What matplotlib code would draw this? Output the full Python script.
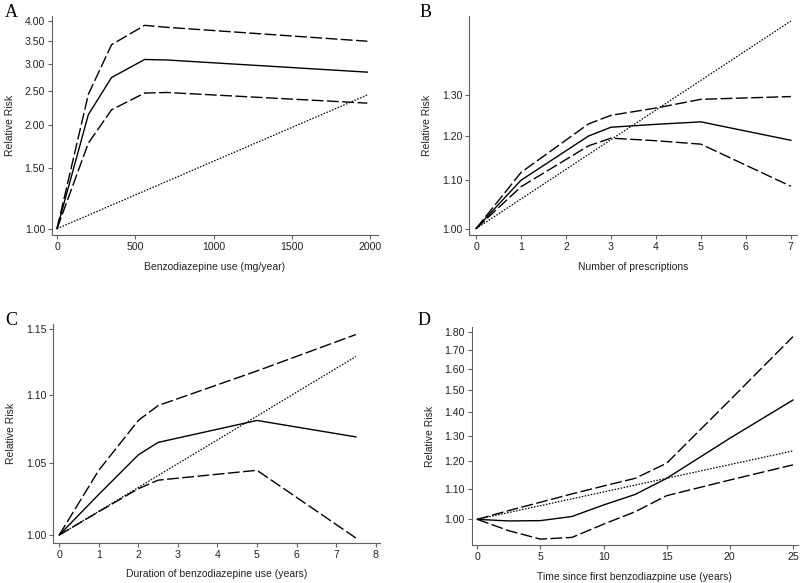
import numpy as np
import matplotlib
matplotlib.use('Agg')
import matplotlib.pyplot as plt
from matplotlib.ticker import FixedLocator, FormatStrFormatter, NullLocator

plt.rcParams['font.family'] = ['Liberation Sans', 'DejaVu Sans']
plt.rcParams['lines.scale_dashes'] = False

# Panel A - cumulative dose
a_x = [0, 200, 348, 559, 700, 1980]
a_rr = [1.00, 2.14, 2.74, 3.09, 3.08, 2.84]
a_hi = [1.00, 2.45, 3.41, 3.88, 3.83, 3.49]
a_lo = [1.00, 1.77, 2.21, 2.47, 2.48, 2.31]
a_lin_x = [0, 1980]
a_lin = [1.00, 2.44]

# Panel B - number of prescriptions
b_x = [0, 1, 2.5, 3, 4, 5, 7]
b_rr = [1.00, 1.100, 1.200, 1.221, 1.228, 1.234, 1.190]
b_hi = [1.00, 1.117, 1.229, 1.250, 1.268, 1.290, 1.297]
b_lo = [1.00, 1.086, 1.177, 1.195, 1.189, 1.181, 1.087]
b_lin_x = [0, 7]
b_lin = [1.00, 1.505]

# Panel C - duration of use
c_x = [0, 1, 2, 2.5, 5, 7.5]
c_rr = [1.00, 1.028, 1.056, 1.065, 1.081, 1.069]
c_hi = [1.00, 1.045, 1.081, 1.092, 1.118, 1.146]
c_lo = [1.00, 1.016, 1.032, 1.038, 1.045, 0.998]
c_lin_x = [0, 7.5]
c_lin = [1.00, 1.129]

# Panel D - time since first use
d_x = [0, 2.5, 5, 7.5, 10, 12.5, 15, 20, 25]
d_rr = [1.00, 0.995, 0.996, 1.009, 1.046, 1.081, 1.137, 1.289, 1.453]
d_hi = [1.00, 1.028, 1.055, 1.083, 1.110, 1.137, 1.192, 1.452, 1.772]
d_lo = [1.00, 0.965, 0.940, 0.945, 0.985, 1.024, 1.077, 1.131, 1.186]
d_lin_x = [0, 25]
d_lin = [1.00, 1.239]

panels = [
    dict(letter='A', pos=[0.065, 0.5964, 0.4075, 0.3762],
         x=a_x, rr=a_rr, hi=a_hi, lo=a_lo, lx=a_lin_x, ly=a_lin,
         xlim=(-32, 2048), ylim=(0.957, 4.13),
         xticks=[0, 500, 1000, 1500, 2000],
         yticks=[1.00, 1.50, 2.00, 2.50, 3.00, 3.50, 4.00],
         xlabel='Benzodiazepine use (mg/year)', lpos=(0.006, 0.993)),
    dict(letter='B', pos=[0.5866, 0.5964, 0.4093, 0.3762],
         x=b_x, rr=b_rr, hi=b_hi, lo=b_lo, lx=b_lin_x, ly=b_lin,
         xlim=(-0.15, 7.13), ylim=(0.987, 1.52),
         xticks=list(range(8)),
         yticks=[1.00, 1.10, 1.20, 1.30],
         xlabel='Number of prescriptions', lpos=(0.525, 0.993)),
    dict(letter='C', pos=[0.0666, 0.0691, 0.4084, 0.3746],
         x=c_x, rr=c_rr, hi=c_hi, lo=c_lo, lx=c_lin_x, ly=c_lin,
         xlim=(-0.15, 8.11), ylim=(0.9948, 1.154),
         xticks=list(range(9)),
         yticks=[1.00, 1.05, 1.10, 1.15],
         xlabel='Duration of benzodiazepine use (years)', lpos=(0.006, 0.464)),
    dict(letter='D', pos=[0.5896, 0.0647, 0.4079, 0.3749],
         x=d_x, rr=d_rr, hi=d_hi, lo=d_lo, lx=d_lin_x, ly=d_lin,
         xlim=(-0.44, 25.4), ylim=(0.922, 1.828),
         xticks=[0, 5, 10, 15, 20, 25],
         yticks=[1.00, 1.10, 1.20, 1.30, 1.40, 1.50, 1.60, 1.70, 1.80],
         xlabel='Time since first benzodiazpine use (years)', lpos=(0.522, 0.464)),
]

fig = plt.figure(figsize=(8, 5.83), dpi=100)
axis_col = '#606060'

for p in panels:
    ax = fig.add_axes(p['pos'])
    ax.plot(p['x'], p['rr'], color='black', lw=1.0, solid_joinstyle='miter')
    ax.plot(p['x'], p['hi'], color='black', lw=1.0, linestyle=(0, (8.5, 2.5)))
    ax.plot(p['x'], p['lo'], color='black', lw=1.0, linestyle=(0, (8.5, 2.5)))
    ax.plot(p['lx'], p['ly'], color='black', lw=0.9, linestyle=(0, (1.1, 1.1)))

    ax.set_yscale('log')
    ax.set_xlim(p['xlim'])
    ax.set_ylim(p['ylim'])
    ax.xaxis.set_major_locator(FixedLocator(p['xticks']))
    ax.yaxis.set_major_locator(FixedLocator(p['yticks']))
    ax.yaxis.set_minor_locator(NullLocator())
    ax.yaxis.set_major_formatter(FormatStrFormatter('%.2f'))

    for s in ['top', 'right']:
        ax.spines[s].set_visible(False)
    for s in ['left', 'bottom']:
        ax.spines[s].set_color(axis_col)
        ax.spines[s].set_linewidth(0.8)
    ax.tick_params(axis='both', direction='out', length=3, width=0.8,
                   color=axis_col, labelsize=7.6, labelcolor='#222222', pad=2)

    ax.set_xlabel(p['xlabel'], fontsize=7.5, color='#222222', labelpad=7)
    ax.set_ylabel('Relative Risk', fontsize=7.5, color='#222222', labelpad=7)

    fig.text(p['lpos'][0], p['lpos'][1], p['letter'], fontsize=13,
             family=['Liberation Serif', 'DejaVu Serif'], va='top', ha='left')

fig.savefig('out.png', dpi=100)
